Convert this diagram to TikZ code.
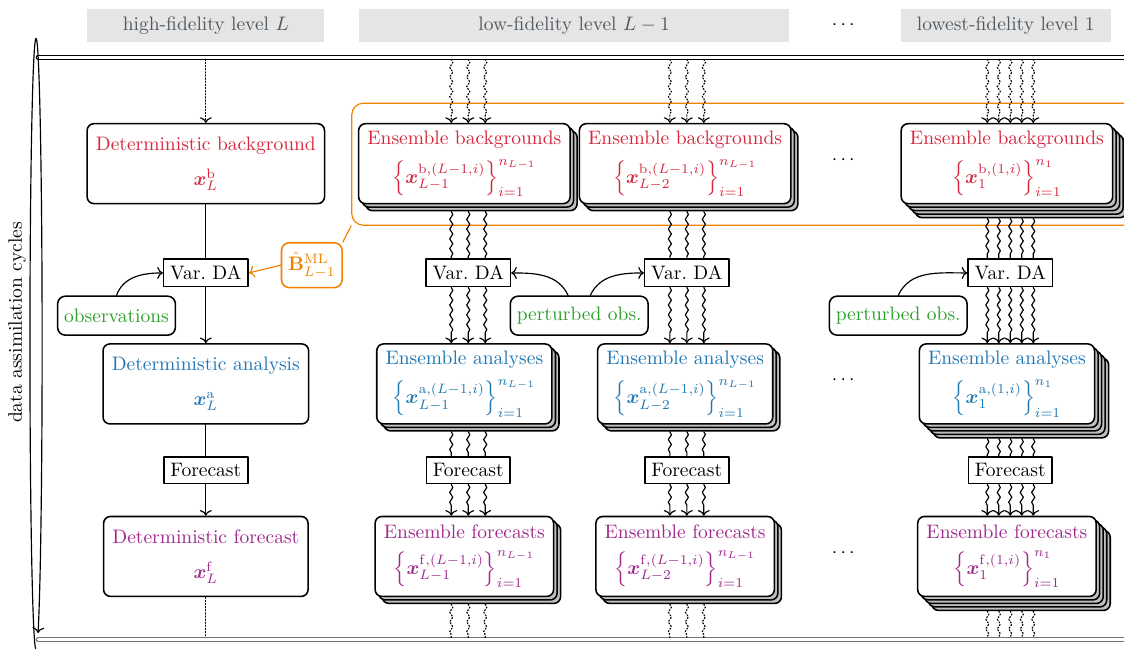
\documentclass[tikz,border=0pt]{standalone}
\usepackage{amssymb,amsmath,bm}
\usetikzlibrary{arrows, arrows.meta, calc}
\usetikzlibrary{decorations.pathmorphing, shadows}

\definecolor{bgred}{RGB}{214,39,60}
\definecolor{anblue}{RGB}{31,119,180}
\definecolor{fcpurple}{RGB}{160,40,140}
\definecolor{obsgreen}{RGB}{44,160,44}
\definecolor{mlorange}{RGB}{240,130,0}
\definecolor{headgray}{RGB}{229,229,229}
\definecolor{headtext}{RGB}{80,88,96}

\tikzset{
	card/.style={draw, thick, rounded corners=3.5pt, fill=white, align=center,
		minimum height=41pt, inner xsep=4.5pt},
	cardcopy/.style={draw=black, thick, fill=black!25},
	stackthree/.style={
		general shadow={shadow xshift=3.6pt, shadow yshift=-3.6pt, cardcopy},
		general shadow={shadow xshift=1.8pt, shadow yshift=-1.8pt, cardcopy}},
	stackfive/.style={
		general shadow={shadow xshift=7.2pt, shadow yshift=-7.2pt, cardcopy},
		general shadow={shadow xshift=5.4pt, shadow yshift=-5.4pt, cardcopy},
		general shadow={shadow xshift=3.6pt, shadow yshift=-3.6pt, cardcopy},
		general shadow={shadow xshift=1.8pt, shadow yshift=-1.8pt, cardcopy}},
	opbox/.style={draw, thick, fill=white},
	obsbox/.style={draw, thick, rounded corners=4pt, fill=white, text=obsgreen, minimum height=20pt},
	header/.style={fill=headgray, text=headtext, minimum height=0.6cm},
	wiggle/.style={decorate, decoration={snake, amplitude=0.8pt, segment length=5pt}},
	wigglearrow/.style={->, decorate, decoration={snake, amplitude=0.8pt, segment length=5pt, post length=3pt}},
}

\begin{document}
\begin{tikzpicture}[>=To, line cap=round, line join=round, semithick]
\useasboundingbox (0,0) rectangle (20.26,11.72);

%========================
% Headers
%========================
\node[header, minimum width=4.27cm] (hdL) at (3.71,11.26) {high-fidelity level $L$};
\node[header, minimum width=7.75cm] (hdLm) at (10.35,11.26) {low-fidelity level $L-1$};
\node (hddots) at (15.23,11.26) {$\cdots$};
\node[header, minimum width=3.79cm] (hdone) at (18.13,11.26) {lowest-fidelity level 1};

%========================
% Cycle lines
%========================
\coordinate (topline) at (0.69,10.69);
\coordinate (botline) at (0.69,0.19);
\coordinate (topedge) at (0.69,10.65);
\coordinate (botedge) at (0.69,0.23);
\draw[double, double distance=1.5pt] (topline) -- ++(19.8,0);
\draw[draw=black!55, double, double distance=1.5pt] (botline) -- ++(19.8,0);
\coordinate (cycstart) at (0.64,0.03);
\draw[->] (cycstart) arc[start angle=265, end angle=-71, x radius=0.11, y radius=5.51];
\node[rotate=90] (cyclab) at (0.31,5.91) {data assimilation cycles};

% multilevel covariance frame
\node[draw=mlorange, rounded corners=6pt, minimum width=14.3cm, minimum height=2.2cm] (mlframe) at (13.49,8.76) {};

%========================
% High-fidelity level L
%========================
\node[card, text=bgred] (bgL) at (3.71,8.77) {Deterministic background\\[6pt] $\bm{x}_L^{\mathrm{b}}$};
\node[opbox] (daL) at (3.71,6.80) {Var.\ DA};
\node[obsbox] (obsL) at (2.10,6.03) {observations};
\node[card, text=anblue] (anL) at (3.71,4.80) {Deterministic analysis\\[6pt] $\bm{x}_L^{\mathrm{a}}$};
\node[opbox] (fcL) at (3.71,3.24) {Forecast};
\node[card, text=fcpurple] (foL) at (3.71,1.69) {Deterministic forecast\\[6pt] $\bm{x}_L^{\mathrm{f}}$};

\draw[densely dotted, ->] (bgL |- topedge) -- (bgL.north);
\draw (bgL) -- (daL);
\draw[->] (daL) -- (anL);
\draw (anL) -- (fcL);
\draw[->] (fcL) -- (foL);
\draw[densely dotted] (foL) -- (foL |- botedge);
\draw[->] (obsL.north) to[out=70, in=180] (daL.west);

% covariance from the lower levels
\node[draw=mlorange, thick, rounded corners=4pt, fill=white, text=mlorange, minimum height=23pt] (Bml) at (5.62,6.94) {$\hat{\mathbf{B}}^{\mathrm{ML}}_{L-1}$};
\draw[mlorange] (Bml.north east) -- (mlframe.south west);
\draw[mlorange, ->] (Bml.west) -- (daL.east);

%========================
% Ensemble levels
%========================
\node[card, stackthree, text=bgred] (bgLm) at (8.37,8.77) {Ensemble backgrounds\\[5pt]
	$\Bigl\{\bm{x}^{\mathrm{b},(L-1,i)}_{L-1}\Bigr\}^{n_{L-1}}_{i=1}$};
\node[card, stackthree, text=bgred] (bgLmm) at (12.35,8.77) {Ensemble backgrounds\\[5pt]
	$\Bigl\{\bm{x}^{\mathrm{b},(L-1,i)}_{L-2}\Bigr\}^{n_{L-1}}_{i=1}$};
\node[card, stackfive, text=bgred] (bgone) at (18.15,8.77) {Ensemble backgrounds\\[5pt]
	$\Bigl\{\bm{x}^{\mathrm{b},(1,i)}_{1}\Bigr\}^{n_{1}}_{i=1}$};

\node[opbox] (daLm) at (8.44,6.80) {Var.\ DA};
\node[opbox] (daLmm) at (12.38,6.80) {Var.\ DA};
\node[opbox] (daone) at (18.21,6.80) {Var.\ DA};

\node[obsbox] (pobsA) at (10.44,6.03) {perturbed obs.};
\node[obsbox] (pobsB) at (16.19,6.03) {perturbed obs.};
\draw[->] ([xshift=-0.2cm]pobsA.north) to[out=115, in=0] (daLm.east);
\draw[->] ([xshift=0.2cm]pobsA.north) to[out=65, in=180] (daLmm.west);
\draw[->] (pobsB.north) to[out=65, in=180] (daone.west);

\node[card, stackthree, text=anblue] (anLm) at (8.37,4.80) {Ensemble analyses\\[5pt]
	$\Bigl\{\bm{x}^{\mathrm{a},(L-1,i)}_{L-1}\Bigr\}^{n_{L-1}}_{i=1}$};
\node[card, stackthree, text=anblue] (anLmm) at (12.35,4.80) {Ensemble analyses\\[5pt]
	$\Bigl\{\bm{x}^{\mathrm{a},(L-1,i)}_{L-2}\Bigr\}^{n_{L-1}}_{i=1}$};
\node[card, stackfive, text=anblue] (anone) at (18.15,4.80) {Ensemble analyses\\[5pt]
	$\Bigl\{\bm{x}^{\mathrm{a},(1,i)}_{1}\Bigr\}^{n_{1}}_{i=1}$};

\node[opbox] (fcLm) at (8.44,3.24) {Forecast};
\node[opbox] (fcLmm) at (12.38,3.24) {Forecast};
\node[opbox] (fcone) at (18.21,3.24) {Forecast};

\node[card, stackthree, text=fcpurple] (foLm) at (8.37,1.69) {Ensemble forecasts\\[5pt]
	$\Bigl\{\bm{x}^{\mathrm{f},(L-1,i)}_{L-1}\Bigr\}^{n_{L-1}}_{i=1}$};
\node[card, stackthree, text=fcpurple] (foLmm) at (12.35,1.69) {Ensemble forecasts\\[5pt]
	$\Bigl\{\bm{x}^{\mathrm{f},(L-1,i)}_{L-2}\Bigr\}^{n_{L-1}}_{i=1}$};
\node[card, stackfive, text=fcpurple] (foone) at (18.15,1.69) {Ensemble forecasts\\[5pt]
	$\Bigl\{\bm{x}^{\mathrm{f},(1,i)}_{1}\Bigr\}^{n_{1}}_{i=1}$};

\node (dotsb) at (15.23,8.83) {$\cdots$};
\node (dotsa) at (15.23,4.87) {$\cdots$};
\node (dotsf) at (15.23,1.75) {$\cdots$};

% one wiggly line per member
\foreach \c/\n/\s/\d in {Lm/1/0.306/0.127, Lmm/1/0.306/0.127, one/2/0.207/0.253}{
	\foreach \k in {-\n,...,\n}{
		\draw[wigglearrow, densely dotted] ($(da\c |- topedge)+(\k*\s,0)$) -- ($(da\c |- bg\c.north)+(\k*\s,0)$);
		\draw[wiggle] ($(da\c |- bg\c.south)+(\k*\s,-\d)$) -- ($(da\c.north)+(\k*\s,0)$);
		\draw[wigglearrow] ($(da\c.south)+(\k*\s,0)$) -- ($(da\c |- an\c.north)+(\k*\s,0)$);
		\draw[wiggle] ($(da\c |- an\c.south)+(\k*\s,-\d)$) -- ($(fc\c.north)+(\k*\s,0)$);
		\draw[wigglearrow] ($(fc\c.south)+(\k*\s,0)$) -- ($(fc\c |- fo\c.north)+(\k*\s,0)$);
		\draw[wiggle, densely dotted] ($(fc\c |- fo\c.south)+(\k*\s,-\d)$) -- ($(fc\c |- botedge)+(\k*\s,0)$);
	}
}

\end{tikzpicture}
\end{document}
